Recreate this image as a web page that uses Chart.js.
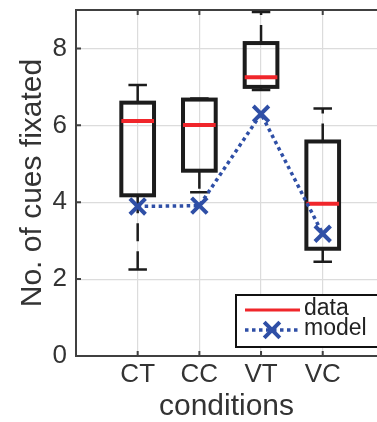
<!DOCTYPE html>
<html>
<head>
<meta charset="utf-8">
<script src="https://cdn.jsdelivr.net/npm/chart.js@4.4.1/dist/chart.umd.min.js"></script>
<style>
  body { margin: 0; background: #fff; }
  canvas { display: block; }
</style>
</head>
<body>
<canvas id="chart" width="377" height="422"></canvas>
<script>
// conditions on the x axis
const categories = ['CT', 'CC', 'VT', 'VC'];
// box plot of the data (number of cues fixated)
const whiskerLow = [2.25, 4.26, 6.92, 2.45];
const quart1 = [4.18, 4.82, 7.00, 2.79];
const medians = [6.11, 6.01, 7.25, 3.96];
const quart3 = [6.59, 6.67, 8.14, 5.58];
const whiskerHigh = [7.05, 6.70, 8.95, 6.44];
// model prediction
const modelValues = [3.89, 3.91, 6.30, 3.18];
const yTicks = [0, 2, 4, 6, 8];
const legendLabels = ['data', 'model'];

const BLACK = '#1c1c1c';
const RED = '#f0262b';
const BLUE = '#2f4fa6';
const AXIS = '#404040';
const GRID = '#dcdcdc';
const TEXT = '#333333';
const FONT = "'Liberation Sans', Arial, sans-serif";

const boxPlot = {
    id: 'boxPlot',
    beforeDatasetsDraw(chart) {
        const { ctx, chartArea, scales: { x, y } } = chart;
        ctx.save();

        // top frame line + inward ticks (matlab style)
        ctx.strokeStyle = AXIS;
        ctx.lineWidth = 2;
        ctx.beginPath();
        ctx.moveTo(chartArea.left - 1, chartArea.top);
        ctx.lineTo(chartArea.right, chartArea.top);
        categories.forEach((c, i) => {
            const px = x.getPixelForValue(i + 1);
            ctx.moveTo(px, chartArea.top);
            ctx.lineTo(px, chartArea.top + 5);
            ctx.moveTo(px, chartArea.bottom);
            ctx.lineTo(px, chartArea.bottom - 5);
        });
        yTicks.forEach(v => {
            const py = y.getPixelForValue(v);
            ctx.moveTo(chartArea.left, py);
            ctx.lineTo(chartArea.left + 5, py);
        });
        ctx.stroke();

        categories.forEach((c, i) => {
            const px = x.getPixelForValue(i + 1);
            const hw = x.getPixelForValue(i + 1.265) - px;
            const cap = x.getPixelForValue(i + 1.15) - px;
            const yQ1 = y.getPixelForValue(quart1[i]);
            const yQ3 = y.getPixelForValue(quart3[i]);
            const yLo = y.getPixelForValue(whiskerLow[i]);
            const yHi = y.getPixelForValue(whiskerHigh[i]);
            const yMed = y.getPixelForValue(medians[i]);

            // whiskers, dashed from the box outwards
            ctx.strokeStyle = BLACK;
            ctx.lineWidth = 2.5;
            ctx.setLineDash([18, 10]);
            ctx.beginPath();
            ctx.moveTo(px, yQ3);
            ctx.lineTo(px, yHi);
            ctx.moveTo(px, yQ1);
            ctx.lineTo(px, yLo);
            ctx.stroke();
            ctx.setLineDash([]);
            ctx.beginPath();
            ctx.moveTo(px - cap, yHi);
            ctx.lineTo(px + cap, yHi);
            ctx.moveTo(px - cap, yLo);
            ctx.lineTo(px + cap, yLo);
            ctx.stroke();

            // box
            ctx.lineWidth = 4;
            ctx.strokeRect(px - hw, yQ3, hw * 2, yQ1 - yQ3);

            // median
            ctx.strokeStyle = RED;
            ctx.lineWidth = 4;
            ctx.beginPath();
            ctx.moveTo(px - hw, yMed);
            ctx.lineTo(px + hw, yMed);
            ctx.stroke();
        });
        ctx.restore();
    },
    afterDraw(chart) {
        const { ctx } = chart;
        ctx.save();
        const lx = 236, ly = 295, lw = 142, lh = 52;
        ctx.fillStyle = '#fff';
        ctx.fillRect(lx, ly, lw, lh);
        ctx.strokeStyle = '#111';
        ctx.lineWidth = 2;
        ctx.strokeRect(lx, ly, lw, lh);

        // data entry
        ctx.strokeStyle = RED;
        ctx.lineWidth = 3;
        ctx.beginPath();
        ctx.moveTo(lx + 9, ly + 15);
        ctx.lineTo(lx + 64, ly + 15);
        ctx.stroke();

        // model entry
        const my = ly + 35;
        ctx.strokeStyle = BLUE;
        ctx.lineWidth = 3.5;
        ctx.setLineDash([3.5, 3.5]);
        ctx.beginPath();
        ctx.moveTo(lx + 9, my);
        ctx.lineTo(lx + 64, my);
        ctx.stroke();
        ctx.setLineDash([]);
        ctx.lineWidth = 4;
        const cx = lx + 36, d = 7.8;
        ctx.beginPath();
        ctx.moveTo(cx - d, my - d);
        ctx.lineTo(cx + d, my + d);
        ctx.moveTo(cx - d, my + d);
        ctx.lineTo(cx + d, my - d);
        ctx.stroke();

        ctx.fillStyle = '#222';
        ctx.font = '23px ' + FONT;
        ctx.textBaseline = 'middle';
        ctx.fillText(legendLabels[0], lx + 68, ly + 14);
        ctx.fillText(legendLabels[1], lx + 68, my - 1);
        ctx.restore();
    }
};

new Chart(document.getElementById('chart'), {
    type: 'line',
    data: {
        datasets: [{
            label: legendLabels[1],
            data: modelValues.map((v, i) => ({ x: i + 1, y: v })),
            borderColor: BLUE,
            borderWidth: 3.5,
            borderDash: [3.5, 3.5],
            pointStyle: 'crossRot',
            pointRadius: 11,
            pointBorderWidth: 4,
            pointBorderColor: BLUE,
            pointBackgroundColor: BLUE,
            tension: 0,
            fill: false
        }]
    },
    options: {
        responsive: false,
        animation: false,
        devicePixelRatio: 1,
        layout: { autoPadding: false, padding: { top: 10, right: 0, left: 0, bottom: 0 } },
        scales: {
            x: {
                type: 'linear',
                min: 0,
                max: 4.88,
                afterBuildTicks: axis => { axis.ticks = categories.map((c, i) => ({ value: i + 1 })); },
                afterFit: axis => {
                    axis.height = 66;
                    axis.paddingLeft = 0;
                    axis.paddingRight = 0;
                },
                grid: { color: GRID, lineWidth: 1.2, drawTicks: false },
                border: { display: true, color: AXIS, width: 2 },
                ticks: {
                    color: TEXT,
                    padding: 3,
                    font: { family: FONT, size: 26 },
                    callback: v => categories[v - 1]
                },
                title: {
                    display: true,
                    text: 'conditions',
                    color: TEXT,
                    font: { family: FONT, size: 30 },
                    padding: { top: 0, bottom: -3 }
                }
            },
            y: {
                min: 0,
                max: 9,
                afterBuildTicks: axis => { axis.ticks = yTicks.map(v => ({ value: v })); },
                afterFit: axis => {
                    axis.width = 76;
                    axis.paddingTop = 0;
                    axis.paddingBottom = 0;
                },
                grid: { color: GRID, lineWidth: 1.2, drawTicks: false },
                border: { display: true, color: AXIS, width: 2 },
                ticks: {
                    color: TEXT,
                    padding: 9,
                    font: { family: FONT, size: 26 }
                },
                title: {
                    display: true,
                    text: 'No. of cues fixated',
                    color: TEXT,
                    font: { family: FONT, size: 30 },
                    padding: { top: 15, bottom: 0 }
                }
            }
        },
        plugins: {
            legend: { display: false },
            tooltip: { enabled: false }
        }
    },
    plugins: [boxPlot]
});
</script>
</body>
</html>
